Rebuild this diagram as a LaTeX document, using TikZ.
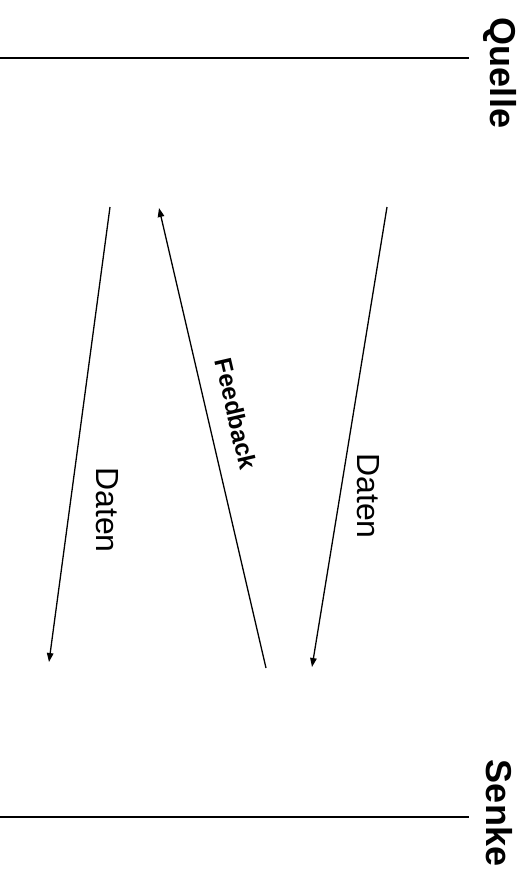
\documentclass[tikz,border=0pt]{standalone}
\usepackage{fontspec}
\setmainfont{Liberation Sans}
\usetikzlibrary{arrows.meta}
\begin{document}
\begin{tikzpicture}[x=1pt,y=-1pt,
  msg/.style={line width=1.3pt,-{Triangle[length=9pt,width=6.5pt]}},
  lane/.style={line width=1.3pt},
  party/.style={rotate=-90,inner sep=0pt,font=\fontsize{36}{42}\selectfont\bfseries},
  lbl/.style={rotate=-90,inner sep=0pt,font=\fontsize{32}{38}\selectfont},
  fb/.style={rotate=-77,inner sep=0pt,font=\fontsize{24.5}{28}\selectfont\bfseries}]
\useasboundingbox (0,0) rectangle (529,888);
% lanes
\coordinate (q0) at (0,58);
\coordinate (q1) at (469,58);
\coordinate (s0) at (0,817);
\coordinate (s1) at (469,817);
\draw[lane] (q0) -- (q1);
\draw[lane] (s0) -- (s1);
\node[party] (quelle) at (500,73) {Quelle};
\node[party] (senke) at (499,813) {Senke};
% messages
\coordinate (a1) at (110,207);
\coordinate (b1) at (49,662);
\coordinate (a2) at (266,668);
\coordinate (b2) at (159,208);
\coordinate (a3) at (387,207);
\coordinate (b3) at (312,667);
\draw[msg] (a1) -- (b1);
\draw[msg] (a2) -- (b2);
\draw[msg] (a3) -- (b3);
\node[lbl] (d1) at (107,510) {Daten};
\node[fb] (f) at (236,414) {Feedback};
\node[lbl] (d2) at (368,496) {Daten};
\end{tikzpicture}
\end{document}
